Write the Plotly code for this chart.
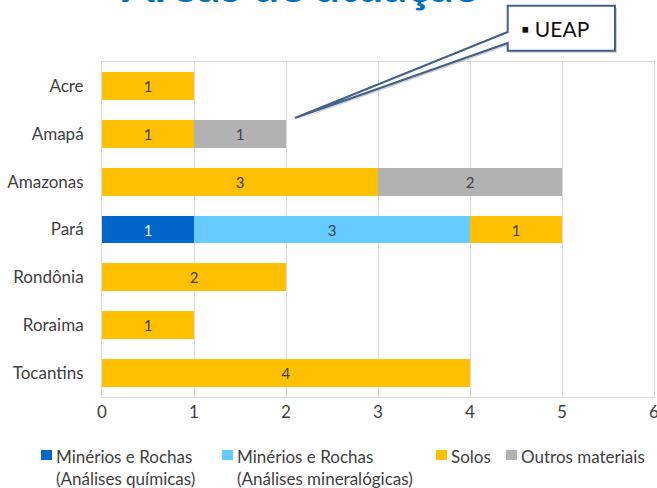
import plotly.graph_objects as go

# Data
states = ["Acre", "Amapá", "Amazonas", "Pará", "Rondônia", "Roraima", "Tocantins"]
minerios_quimicas = [0, 0, 0, 1, 0, 0, 0]
minerios_mineralogicas = [0, 0, 0, 3, 0, 0, 0]
solos = [1, 1, 3, 1, 2, 1, 4]
outros = [0, 1, 2, 0, 0, 0, 0]

series = [
    ("Minérios e Rochas<br>(Análises químicas)", minerios_quimicas, "#0066CC", "#E8EEF8"),
    ("Minérios e Rochas<br>(Análises mineralógicas)", minerios_mineralogicas, "#66CCFF", "#404040"),
    ("Solos", solos, "#FFC000", "#404040"),
    ("Outros materiais", outros, "#B2B2B2", "#404040"),
]

FONT = "Lato"

fig = go.Figure()
for name, vals, color, txtcolor in series:
    fig.add_trace(go.Bar(
        name=name,
        y=states,
        x=[v if v else None for v in vals],
        orientation="h",
        marker=dict(color=color, line=dict(width=0)),
        text=[str(v) if v else "" for v in vals],
        textposition="inside",
        insidetextanchor="middle",
        textangle=0,
        textfont=dict(family=FONT, size=15, color=txtcolor),
        showlegend=False,
    ))

# plot area in pixels: x 102..654, y 62..397
L, R, T, B = 102, 654, 62, 397
def px(x):
    return (x - L) / (R - L)
def py(y):
    return (B - y) / (B - T)

# callout box with pointer
bx0, bx1, by0, by1 = 507.7, 615, 5.7, 50.7
tipx, tipy = 295, 118
def callout(dx=0, dy=0):
    pts = [(bx0, by0), (bx1, by0), (bx1, by1), (bx0, by1), (bx0, 43), (tipx, tipy), (bx0, 32)]
    return "M " + " L ".join(f"{px(a + dx):.4f},{py(b + dy):.4f}" for a, b in pts) + " Z"

shapes = [
    dict(type="path", xref="paper", yref="paper", path=callout(2, 2),
         fillcolor="rgba(0,0,0,0.18)", line=dict(width=0), layer="above"),
    dict(type="path", xref="paper", yref="paper", path=callout(),
         fillcolor="white", line=dict(color="#41628A", width=2), layer="above"),
]

annotations = [
    dict(text="<b>Áreas de atuação</b>", xref="paper", yref="paper",
         x=px(301), y=py(-16), xanchor="center", yanchor="middle", showarrow=False,
         font=dict(family=FONT, size=47, color="#0070C0")),
    dict(text="▪ UEAP", xref="paper", yref="paper",
         x=px(519), y=py(28), xanchor="left", yanchor="middle", showarrow=False,
         font=dict(family=FONT, size=21, color="#111111")),
]

# legend drawn below the plot: square x position, text x position
legend_sq = [41, 222, 436, 506]
legend_tx = [54, 235, 449, 519]
for (name, vals, color, _), sx, tx in zip(series, legend_sq, legend_tx):
    shapes.append(dict(type="rect", xref="paper", yref="paper",
                       x0=px(sx), x1=px(sx + 11), y0=py(450), y1=py(460),
                       fillcolor=color, line=dict(width=0)))
    annotations.append(dict(text=name, xref="paper", yref="paper",
                            x=px(tx), y=py(444), xanchor="left", yanchor="top",
                            align="left", showarrow=False,
                            font=dict(family=FONT, size=17, color="#404040")))

fig.update_layout(
    width=657, height=488,
    margin=dict(l=L, r=657 - R, t=T, b=488 - B, autoexpand=False),
    barmode="stack",
    bargap=0.42,
    plot_bgcolor="white",
    paper_bgcolor="white",
    font=dict(family=FONT, size=15, color="#404040"),
    showlegend=False,
    shapes=shapes,
    annotations=annotations,
)

fig.update_xaxes(range=[0, 6], dtick=1, showgrid=True, gridcolor="#D9D9D9", gridwidth=1,
                 showline=True, linecolor="#D9D9D9", mirror=True, zeroline=False,
                 tickfont=dict(family=FONT, size=17, color="#404040"), ticks="",
                 ticklabeloverflow="allow", automargin=False)
fig.update_yaxes(categoryorder="array", categoryarray=states, autorange="reversed",
                 showline=True, linecolor="#D9D9D9", mirror=True,
                 tickfont=dict(family=FONT, size=17, color="#404040"),
                 ticks="", ticklabelstandoff=14, automargin=False)

fig.write_html("out.html", config={"displayModeBar": False},
               post_script="document.body.style.margin='0';")
